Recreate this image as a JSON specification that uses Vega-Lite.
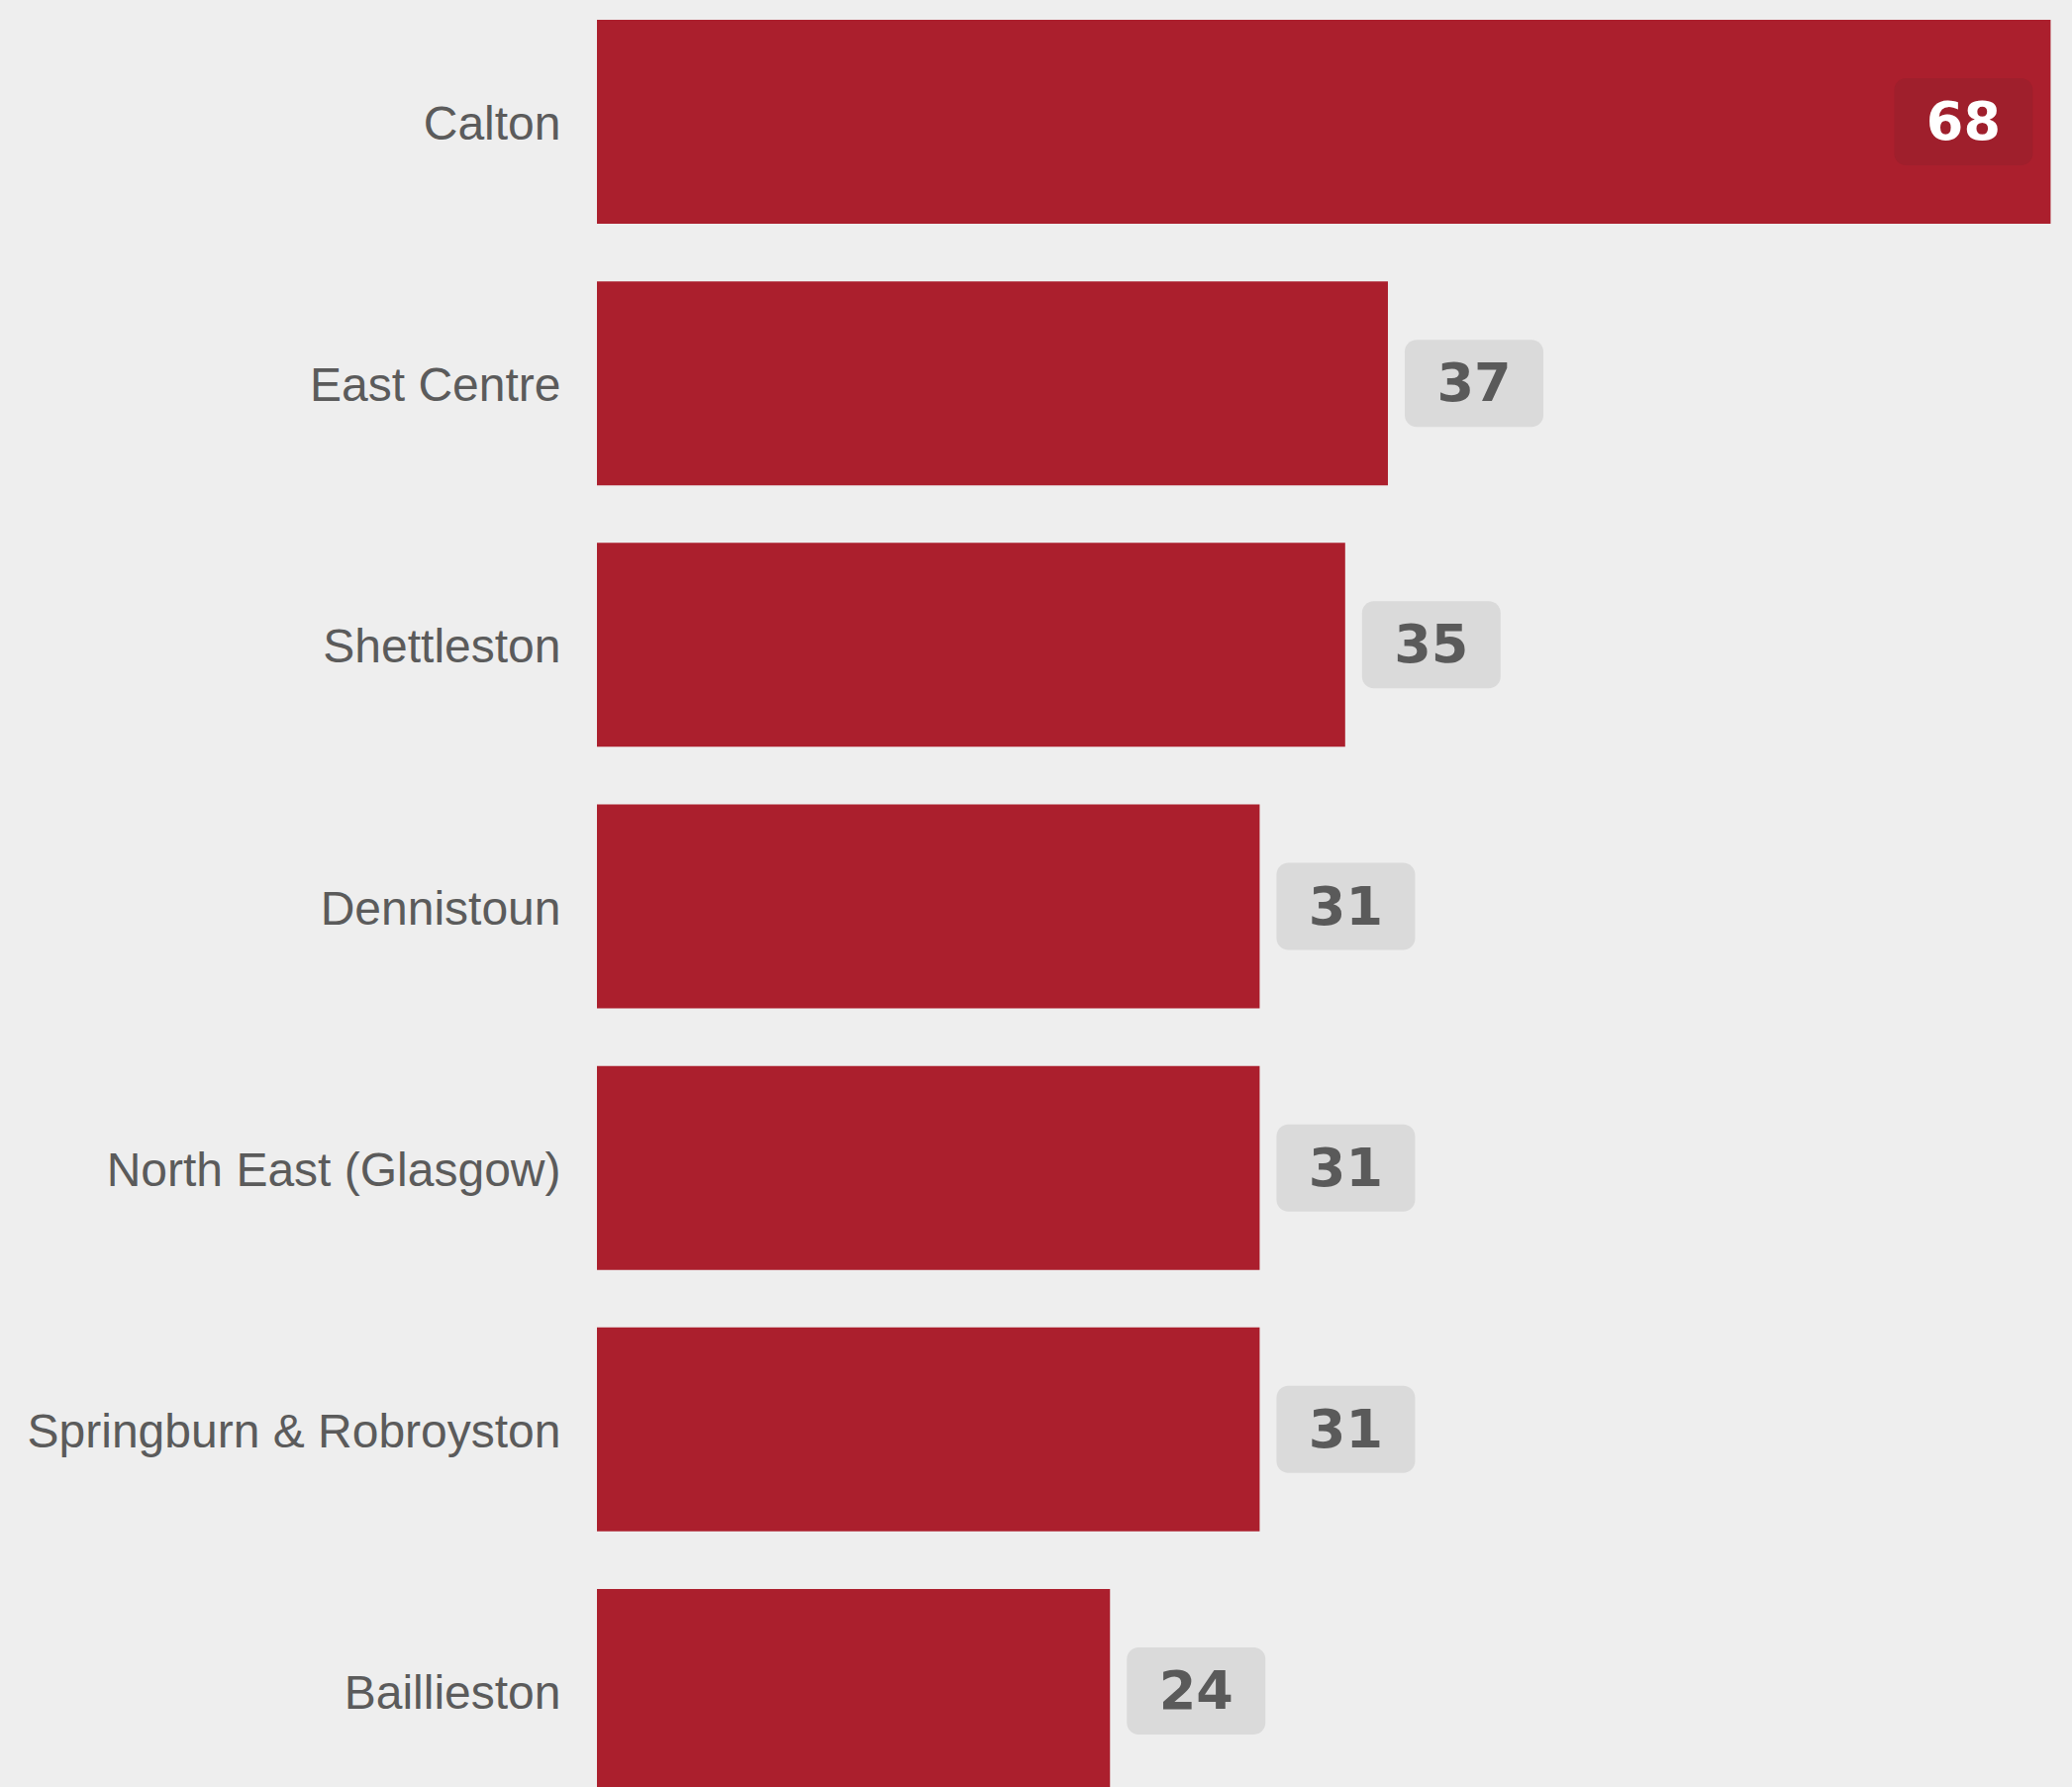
{
  "$schema": "https://vega.github.io/schema/vega-lite/v6.json",
  "autosize": {"type": "none"},
  "width": 1490,
  "height": 1805,
  "padding": {"left": 603, "top": 0, "right": 0, "bottom": 0},
  "background": "#eeeeee",
  "config": {"view": {"stroke": null}},
  "data": {"values": [
    {"area": "Calton", "value": 68},
    {"area": "East Centre", "value": 37},
    {"area": "Shettleston", "value": 35},
    {"area": "Dennistoun", "value": 31},
    {"area": "North East (Glasgow)", "value": 31},
    {"area": "Springburn & Robroyston", "value": 31},
    {"area": "Baillieston", "value": 24}
  ]},
  "encoding": {
    "y": {"field": "area", "type": "nominal", "sort": null,
      "scale": {"range": [0, 1831], "paddingInner": 0.22, "paddingOuter": 0.0757},
      "axis": {"title": null, "domain": false, "ticks": false, "labelFont": "Liberation Sans", "labelFontSize": 48, "labelColor": "#5b5b5b", "labelPadding": 37, "labelLimit": 600, "labelOffset": 4}},
    "x": {"field": "value", "type": "quantitative", "scale": {"domain": [0, 69], "nice": false}, "axis": null}
  },
  "layer": [
    {"mark": {"type": "bar", "color": "#ab1f2d", "clip": true}},
    {"transform": [{"filter": "datum.value < 60"}],
     "mark": {"type": "bar", "color": "#dadada", "cornerRadius": 12, "size": 88, "xOffset": 17, "x2Offset": 157},
     "encoding": {"x2": {"field": "value"}}},
    {"transform": [{"filter": "datum.value >= 60"}],
     "mark": {"type": "bar", "color": "#9f1f2c", "cornerRadius": 12, "size": 88, "xOffset": -158, "x2Offset": -18},
     "encoding": {"x2": {"field": "value"}}},
    {"transform": [{"filter": "datum.value < 60"}],
     "mark": {"type": "text", "font": "DejaVu Sans", "fontWeight": "bold", "fontSize": 54, "color": "#5a5a5a", "align": "center", "baseline": "middle", "dx": 87, "dy": 2},
     "encoding": {"text": {"field": "value"}}},
    {"transform": [{"filter": "datum.value >= 60"}],
     "mark": {"type": "text", "font": "DejaVu Sans", "fontWeight": "bold", "fontSize": 54, "color": "#ffffff", "align": "center", "baseline": "middle", "dx": -88, "dy": 2},
     "encoding": {"text": {"field": "value"}}}
  ]
}
